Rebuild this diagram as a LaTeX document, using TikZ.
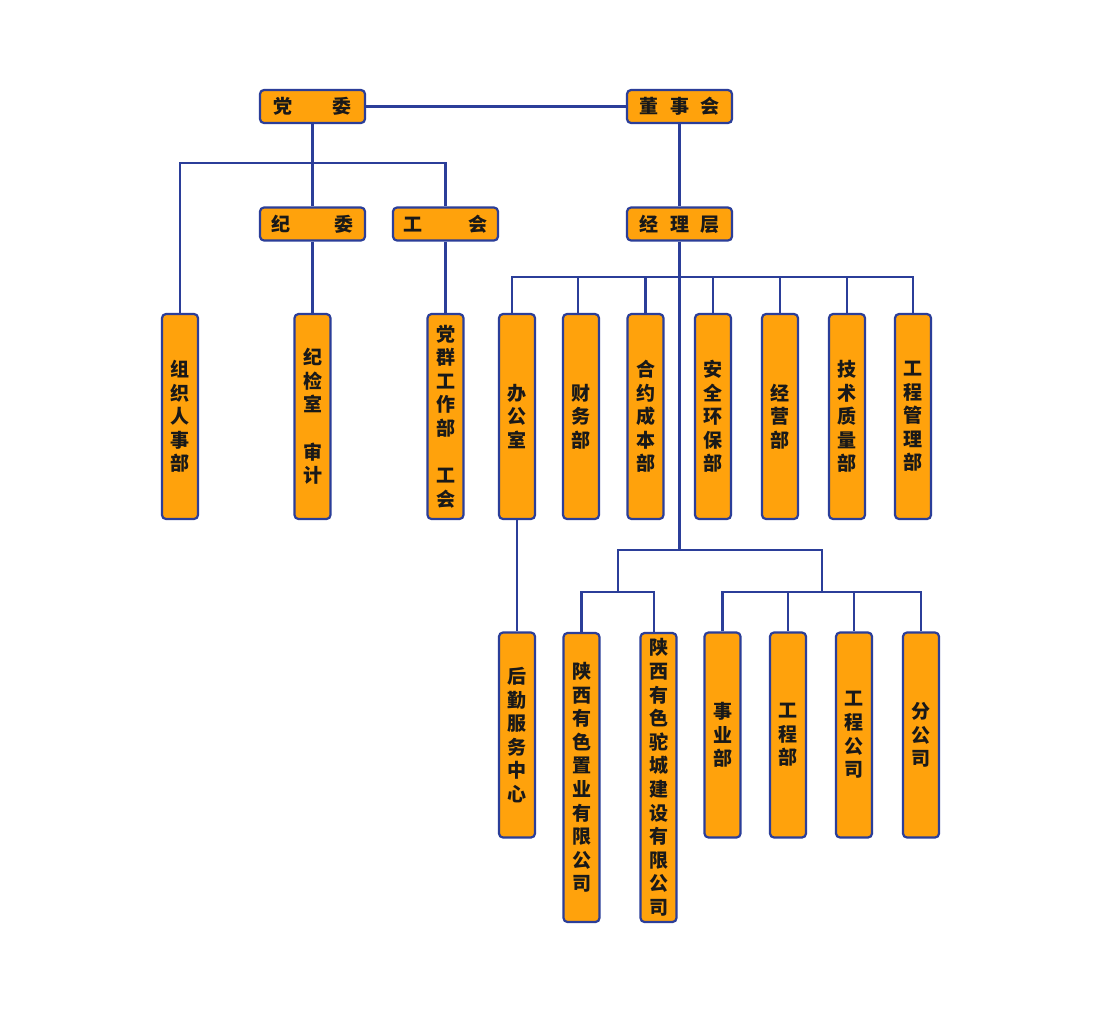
\documentclass[tikz,border=0pt]{standalone}
\usepackage{fontspec}
\newfontfamily\cjk{Noto Sans CJK SC}
\definecolor{lineblue}{HTML}{2B3E99}
\definecolor{boxorange}{HTML}{FFA20C}
\begin{document}
\begin{tikzpicture}[x=1pt,y=-1pt,
  box/.style={draw=lineblue, fill=boxorange, line width=2.2pt, rounded corners=4pt,
    inner sep=0pt, font=\cjk\bfseries\fontsize{19}{23.6}\selectfont, text=black!90, align=center},
  hbox/.style={box, minimum width=105, minimum height=33},
  vbox/.style={box, minimum width=36, minimum height=205},
  lbox/.style={box, minimum width=36, minimum height=289},
  conn/.style={draw=lineblue, line width=2.2pt, line join=miter}]
\useasboundingbox[fill=white] (0,0) rectangle (1100,1013);
% top level
\node[hbox] (dw)  at (312.5,106.5) {党\hspace{41pt}委};
\node[hbox] (dsh) at (679.5,106.5) {董\hspace{11.5pt}事\hspace{11.5pt}会};
\node[hbox] (jw)  at (312.5,224) {纪\hspace{45pt}委};
\node[hbox] (gh)  at (445.5,224) {工\hspace{46pt}会};
\node[hbox] (jl)  at (679.5,224) {经\hspace{11.5pt}理\hspace{11.5pt}层};
% row 1
\node[vbox] (zz) at (180,416.5)   {组\\织\\人\\事\\部};
\node[vbox] (jj) at (312.5,416.5) {纪\\检\\室\\~\\审\\计};
\node[vbox] (dq) at (445.5,416.5) {党\\群\\工\\作\\部\\~\\工\\会};
\node[vbox] (bg) at (517,416.5)   {办\\公\\室};
\node[vbox] (cw) at (581,416.5)   {财\\务\\部};
\node[vbox] (hy) at (645.5,416.5) {合\\约\\成\\本\\部};
\node[vbox] (aq) at (713,416.5)   {安\\全\\环\\保\\部};
\node[vbox] (jy) at (780,416.5)   {经\\营\\部};
\node[vbox] (js) at (847,416.5)   {技\\术\\质\\量\\部};
\node[vbox] (gc) at (913,416.5)   {工\\程\\管\\理\\部};
% row 2
\node[vbox] (hq)  at (517,735)     {后\\勤\\服\\务\\中\\心};
\node[lbox] (zy)  at (581.5,777.5) {陕\\西\\有\\色\\置\\业\\有\\限\\公\\司};
\node[lbox] (tc)  at (658.5,777.5) {陕\\西\\有\\色\\驼\\城\\建\\设\\有\\限\\公\\司};
\node[vbox] (sy)  at (722.5,735)   {事\\业\\部};
\node[vbox] (gcb) at (788,735)     {工\\程\\部};
\node[vbox] (gcg) at (854,735)     {工\\程\\公\\司};
\node[vbox] (fg)  at (921,735)     {分\\公\\司};
% bus coordinates
\coordinate (bL) at (180,163);
\coordinate (bR) at (445.5,163);
\coordinate (j1) at (679.5,550);
\coordinate (m1L) at (512,277);
\coordinate (m1R) at (913,277);
\coordinate (s2) at (578,277);
\coordinate (j2L) at (618,550);
\coordinate (j2R) at (822,550);
\coordinate (k1L) at (581.5,592);
\coordinate (k1R) at (654,592);
\coordinate (k2L) at (722.5,592);
\coordinate (k2R) at (921,592);
% connectors
\draw[conn] (dw) -- (dsh);
\draw[conn] (dw.south) -- (jw.north);
\draw[conn] (zz.north) -- (bL) -- (bR) -- (gh.north);
\draw[conn] (jw.south) -- (jj.north);
\draw[conn] (gh.south) -- (dq.north);
\draw[conn] (dsh.south) -- (jl.north);
\draw[conn] (jl.south) -- (j1);
\draw[conn] (m1L |- bg.north) -- (m1L) -- (m1R) -- (gc.north);
\draw[conn] (s2) -- (s2 |- cw.north);
\draw[conn] (hy.north |- m1L) -- (hy.north);
\draw[conn] (aq.north |- m1L) -- (aq.north);
\draw[conn] (jy.north |- m1L) -- (jy.north);
\draw[conn] (js.north |- m1L) -- (js.north);
\draw[conn] (bg.south) -- (hq.north);
\draw[conn] (j2L |- k1L) -- (j2L) -- (j2R) -- (j2R |- k2L);
\draw[conn] (zy.north) -- (k1L) -- (k1R) -- (k1R |- tc.north);
\draw[conn] (sy.north) -- (k2L) -- (k2R) -- (fg.north);
\draw[conn] (gcb.north |- k2L) -- (gcb.north);
\draw[conn] (gcg.north |- k2L) -- (gcg.north);
\end{tikzpicture}
\end{document}
